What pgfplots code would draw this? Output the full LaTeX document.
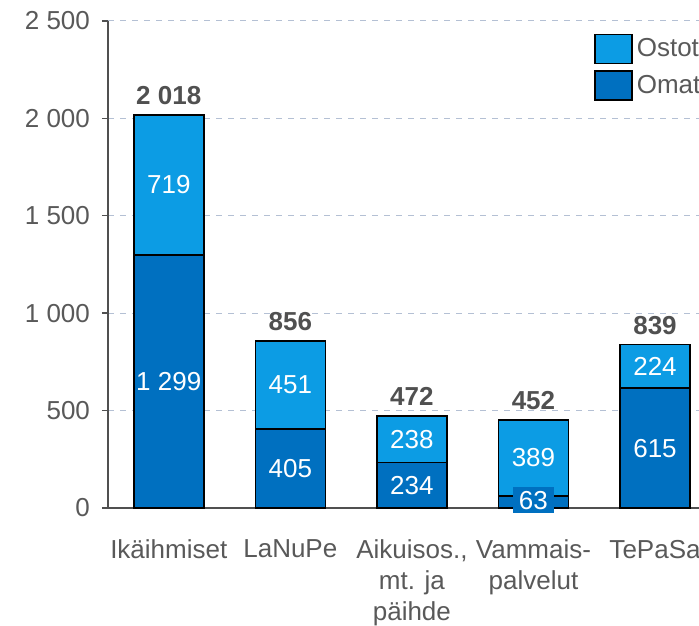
\documentclass[border=0pt]{standalone}
\usepackage{pgfplots}
\pgfplotsset{compat=1.18}
\usepackage{fontspec}
\setmainfont{Liberation Sans}
\definecolor{ostot}{RGB}{12,156,228}
\definecolor{omat}{RGB}{0,112,192}
\definecolor{txt}{RGB}{89,89,89}
\definecolor{tot}{RGB}{80,80,80}
\definecolor{gridc}{RGB}{180,192,212}
\definecolor{axisc}{RGB}{80,80,80}
\begin{document}
\begin{tikzpicture}
\begin{scope}
\clip (-54pt,-58.5pt) rectangle (295.5pt,254pt);
\begin{axis}[
  at={(0,0)}, anchor=south west,
  width=295.5pt, height=243.5pt, scale only axis,
  xmin=-0.5, xmax=4.362, ymin=0, ymax=2500,
  ybar stacked, bar width=35pt,
  axis x line*=bottom, axis y line*=left,
  axis line style={draw=axisc, line width=0.7pt, -},
  xtick={0,1,2,3,4},
  xticklabels={Ikäihmiset, LaNuPe, {Aikuisos.,\\mt. ja\\päihde}, {Vammais-\\palvelut}, TePaSa},
  x tick style={draw=none},
  xticklabel style={align=center, anchor=north, yshift=-9.5pt, font=\fontsize{13}{15.3}\selectfont, text=txt},
  ytick={0,500,1000,1500,2000,2500},
  yticklabels={0,500,1 000,1 500,2 000,2 500},
  yticklabel style={font=\fontsize{13}{14}\selectfont, text=txt, xshift=-2.5pt},
  y tick style={draw=axisc, line width=0.7pt},
  tick align=outside, major tick length=3pt,
  ymajorgrids, grid style={dashed, gridc, line width=0.5pt},
  reverse legend,
  legend style={at={(0.822,0.975)}, anchor=north west, draw=none, fill=none,
    font=\fontsize{13}{14}\selectfont, text=txt, row sep=3pt, inner sep=0pt},
  legend cell align=left,
]
\addplot[fill=omat, draw=black, line width=0.8pt,
  legend image code/.code={\draw[fill=omat, draw=black, line width=0.8pt] (0pt,-7.25pt) rectangle (18.5pt,7.25pt);}]
  coordinates {(0,1299) (1,405) (2,234) (3,63) (4,615)};
\addlegendentry{Omat}
\addplot[fill=ostot, draw=black, line width=0.8pt,
  legend image code/.code={\draw[fill=ostot, draw=black, line width=0.8pt] (0pt,-7.25pt) rectangle (18.5pt,7.25pt);}]
  coordinates {(0,719) (1,451) (2,238) (3,389) (4,224)};
\addlegendentry{Ostot}
\end{axis}
\begin{axis}[
  at={(0,0)}, anchor=south west,
  width=295.5pt, height=243.5pt, scale only axis,
  xmin=-0.5, xmax=4.362, ymin=0, ymax=2500,
  hide axis, clip=false,
]
\addplot[draw=none, mark=none, nodes near coords, point meta=explicit symbolic,
  every node near coord/.style={anchor=center, text=white, font=\fontsize{13}{14}\selectfont}]
  coordinates {(0,649.5)[1 299] (0,1658.5)[719] (1,202.5)[405] (1,630.5)[451]
    (2,117)[234] (2,353)[238] (3,257.5)[389] (4,307.5)[615] (4,727)[224]};
\addplot[draw=none, mark=none, nodes near coords, point meta=explicit symbolic,
  every node near coord/.style={anchor=center, text=white, fill=omat, inner xsep=3pt, inner ysep=2pt, font=\fontsize{13}{14}\selectfont}]
  coordinates {(3,40)[63]};
\addplot[draw=none, mark=none, nodes near coords, point meta=explicit symbolic,
  every node near coord/.style={anchor=south, text=tot, yshift=1.5pt, font=\fontsize{13}{14}\selectfont\bfseries}]
  coordinates {(0,2018)[2 018] (1,856)[856] (2,472)[472] (3,452)[452] (4,839)[839]};
\end{axis}
\end{scope}
\pgfresetboundingbox
\useasboundingbox (-54pt,-58.5pt) rectangle (295.5pt,254pt);
\end{tikzpicture}
\end{document}
